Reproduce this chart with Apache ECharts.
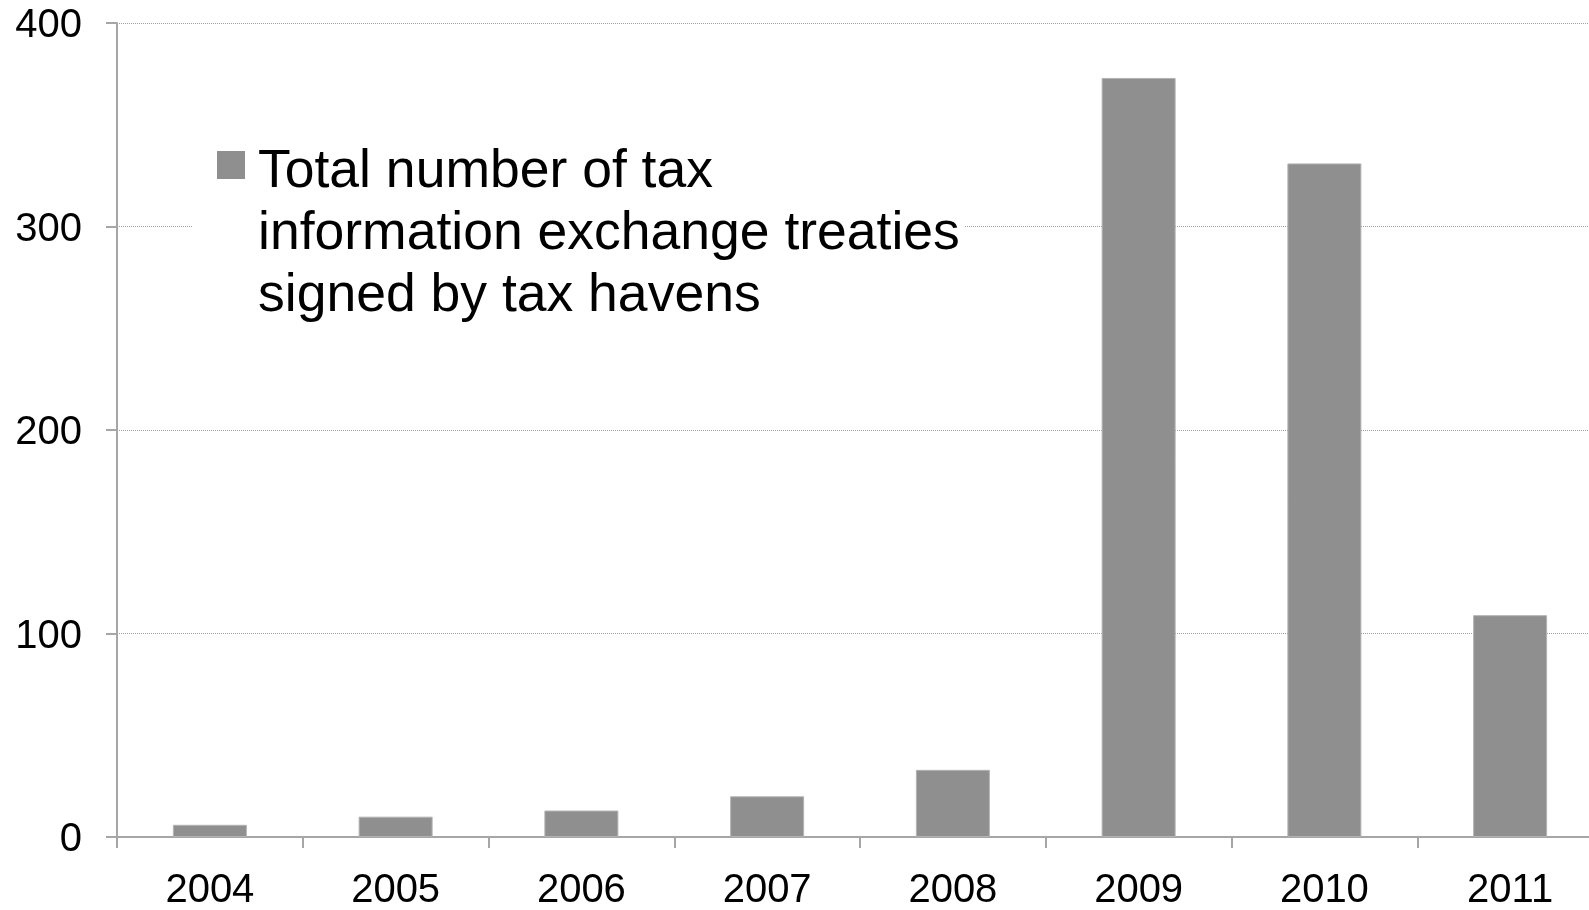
<!DOCTYPE html>
<html>
<head>
<meta charset="utf-8">
<script src="https://cdn.jsdelivr.net/npm/echarts@6/dist/echarts.min.js"></script>
<style>
html,body{margin:0;padding:0;background:#fff;}
#chart{width:1589px;height:910px;}
</style>
</head>
<body>
<div id="chart"></div>
<script>
var categories = ['2004', '2005', '2006', '2007', '2008', '2009', '2010', '2011'];
var treaties = [6, 10, 13, 20, 33, 373, 331, 109];
var seriesName = 'Total number of tax\ninformation exchange treaties\nsigned by tax havens';
var yTicks = { min: 0, max: 400, interval: 100 };

var FONT = '"Liberation Sans", Arial, Helvetica, sans-serif';
var chart = echarts.init(document.getElementById('chart'), null, { renderer: 'canvas' });
chart.setOption({
  animation: false,
  backgroundColor: '#ffffff',
  textStyle: { fontFamily: FONT },
  grid: { left: 117, width: 1486, top: 23, height: 814, containLabel: false, outerBoundsMode: 'none' },
  graphic: [{
    type: 'rect', z: 1, silent: true,
    shape: { x: 193, y: 140, width: 772, height: 180 },
    style: { fill: '#ffffff' }
  }],
  legend: {
    show: true,
    left: 217, top: 3,
    padding: 0,
    selectedMode: false,
    icon: 'rect',
    itemWidth: 28, itemHeight: 28,
    itemStyle: { borderWidth: 0, color: '#8f8f8f' },
    formatter: function (name) { return '{s| }\n' + name; },
    textStyle: {
      fontFamily: FONT, fontSize: 53.5, lineHeight: 62, color: '#000', padding: [0, 0, 0, 8],
      rich: { s: { fontSize: 10, lineHeight: 138 } }
    },
    data: [seriesName]
  },
  xAxis: {
    type: 'category',
    data: categories,
    axisLine: { show: true, lineStyle: { color: '#a6a6a6', width: 2 } },
    axisTick: { show: true, length: 11, lineStyle: { color: '#a6a6a6', width: 2 } },
    axisLabel: { fontFamily: FONT, fontSize: 40, color: '#000', margin: 34 },
    splitLine: { show: false }
  },
  yAxis: {
    type: 'value',
    min: yTicks.min, max: yTicks.max, interval: yTicks.interval,
    axisLine: { show: true, lineStyle: { color: '#a6a6a6', width: 2 } },
    axisTick: { show: true, length: 11, lineStyle: { color: '#a6a6a6', width: 2 } },
    axisLabel: {
      fontFamily: FONT, fontSize: 40, color: '#000', margin: 35,
      formatter: function (v) { return '{v|' + v + '}'; },
      rich: { v: { fontFamily: FONT, fontSize: 40, color: '#000', padding: [6, 0, 0, 0] } }
    },
    splitLine: { show: true, lineStyle: { color: '#a0a0a0', width: 1, type: 'dotted' } }
  },
  series: [{
    name: seriesName,
    type: 'bar',
    data: treaties,
    barWidth: 74,
    z: 2,
    itemStyle: { color: '#8f8f8f', borderColor: '#b3b3b3', borderWidth: 1 }
  }]
});
</script>
</body>
</html>
